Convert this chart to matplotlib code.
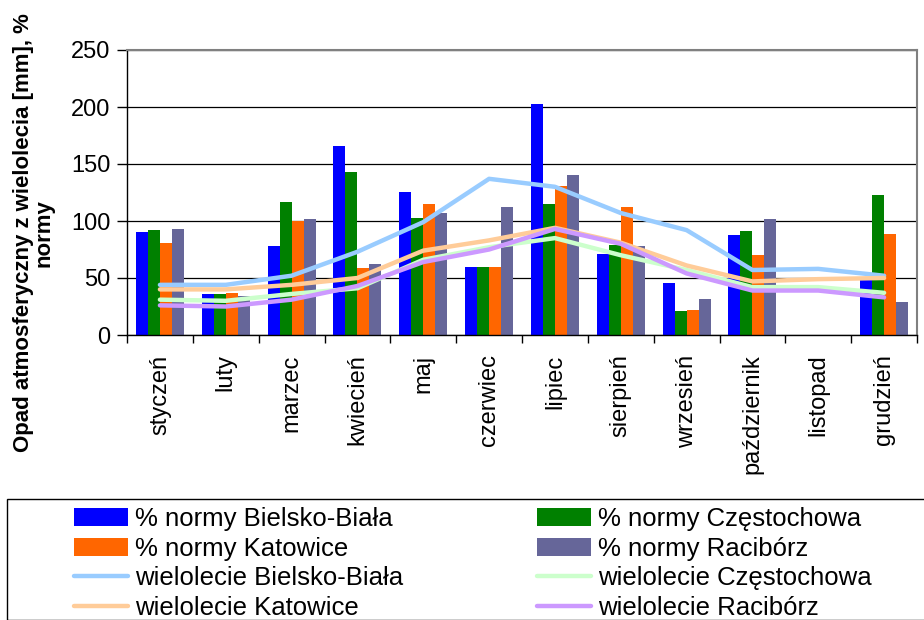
import numpy as np
import matplotlib
matplotlib.use('Agg')
from matplotlib import pyplot as plt
from matplotlib.patches import Rectangle

plt.rcParams['font.family'] = ['Liberation Sans', 'DejaVu Sans']

months = ['styczeń', 'luty', 'marzec', 'kwiecień', 'maj', 'czerwiec',
          'lipiec', 'sierpień', 'wrzesień', 'październik', 'listopad', 'grudzień']

# % normy (bars), listopad has no data
norm_bielsko = [90, 36, 78, 166, 125, 60, 203, 71, 46, 88, np.nan, 48]
norm_czest = [92, 36, 117, 143, 103, 60, 115, 79, 21, 91, np.nan, 123]
norm_katow = [81, 37, 100, 59, 115, 60, 131, 112, 22, 70, np.nan, 89]
norm_racib = [93, 34, 102, 62, 107, 112, 140, 78, 32, 102, np.nan, 29]

# wielolecie (lines)
wiel_bielsko = [44, 44, 52, 73, 99, 137, 130, 107, 92, 57, 58, 52]
wiel_czest = [31, 30, 36, 41, 66, 77, 85, 70, 57, 42, 42, 37]
wiel_katow = [40, 40, 44, 50, 74, 83, 94, 81, 61, 47, 49, 50]
wiel_racib = [26, 25, 31, 43, 64, 75, 93, 80, 54, 39, 39, 33]

bar_series = [
    ('% normy Bielsko-Biała', norm_bielsko, '#0000ff'),
    ('% normy Częstochowa', norm_czest, '#008000'),
    ('% normy Katowice', norm_katow, '#ff6600'),
    ('% normy Racibórz', norm_racib, '#666699'),
]
line_series = [
    ('wielolecie Bielsko-Biała', wiel_bielsko, '#99ccff'),
    ('wielolecie Częstochowa', wiel_czest, '#ccffcc'),
    ('wielolecie Katowice', wiel_katow, '#ffcc99'),
    ('wielolecie Racibórz', wiel_racib, '#cc99ff'),
]

W, H = 924, 620
fig = plt.figure(figsize=(W / 100, H / 100), dpi=100)
ax = fig.add_axes([127 / W, 1 - 335 / H, (917 - 127) / W, (335 - 50) / H])

x = np.arange(len(months))
bw = 0.182
handles = {}
for i, (name, vals, col) in enumerate(bar_series):
    b = ax.bar(x + (i - 1.5) * bw, vals, bw, color=col, zorder=2)
    handles[name] = b
for name, vals, col in line_series:
    ln, = ax.plot(x, vals, color=col, lw=3.2, solid_capstyle='round', zorder=3)
    handles[name] = ln

ax.set_xlim(-0.5, 11.5)
ax.set_ylim(0, 250)
ax.set_yticks(range(0, 251, 50))
ax.yaxis.grid(True, color='black', lw=0.9, zorder=1)
ax.set_axisbelow(True)

ax.set_xticks(x)
ax.set_xticklabels(months, rotation=90, fontsize=17)
ax.set_xticks(np.arange(-0.5, 12, 1), minor=True)
ax.tick_params(axis='x', which='major', length=0, pad=14)
ax.tick_params(axis='x', which='minor', length=6, direction='out', width=1)
ax.tick_params(axis='y', length=7, direction='out', width=1, pad=5, labelsize=17)

for s in ['left', 'bottom']:
    ax.spines[s].set_color('black')
    ax.spines[s].set_linewidth(1)
for s in ['top', 'right']:
    ax.spines[s].set_color('#808080')
    ax.spines[s].set_linewidth(1.5)

fig.text(34 / W, 1 - 233 / H, 'Opad atmosferyczny z wielolecia [mm], %\nnormy',
         rotation=90, ha='center', va='center', multialignment='center',
         fontsize=16, fontweight='bold', linespacing=0.95)

# legend frame
fig.patches.append(Rectangle((7 / W, 0), 1.0, 1 - 499 / H, transform=fig.transFigure,
                             fill=False, edgecolor='black', lw=1))

order = ['% normy Bielsko-Biała', '% normy Katowice', 'wielolecie Bielsko-Biała',
         'wielolecie Katowice', '% normy Częstochowa', '% normy Racibórz',
         'wielolecie Częstochowa', 'wielolecie Racibórz']
fig.legend([handles[k] for k in order], order, ncol=2, loc='upper left',
           bbox_to_anchor=(74 / W, 1 - 507 / H), frameon=False, fontsize=18.5,
           borderpad=0, borderaxespad=0, handlelength=2.1, handletextpad=0.28,
           columnspacing=5.2, labelspacing=0.22)

fig.savefig('out.png', dpi=100)
